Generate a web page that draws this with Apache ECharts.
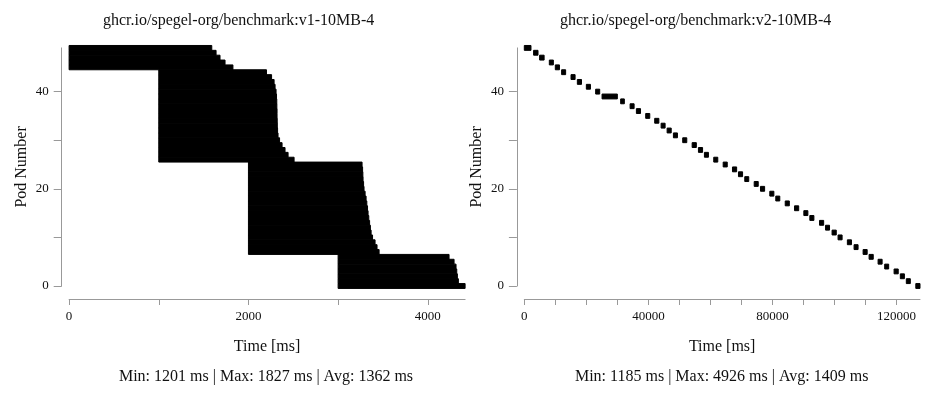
<!DOCTYPE html>
<html>
<head>
<meta charset="utf-8">
<script src="https://cdn.jsdelivr.net/npm/echarts@6/dist/echarts.min.js"></script>
<style>
html,body{margin:0;padding:0;background:#fff;}
#chart{width:933px;height:400px;}
</style>
</head>
<body>
<div id="chart"></div>
<script>
// ---------- Data ----------
const leftTitle = 'ghcr.io/spegel-org/benchmark:v1-10MB-4';
const rightTitle = 'ghcr.io/spegel-org/benchmark:v2-10MB-4';
const leftStats = 'Min: 1201 ms | Max: 1827 ms | Avg: 1362 ms';
const rightStats = 'Min: 1185 ms | Max: 4926 ms | Avg: 1409 ms';

// pod index 0..49
const leftStart = [
  3000, 3000, 3000, 3000, 3000, 3000, 3000,
  2000, 2000, 2000, 2000, 2000, 2000, 2000, 2000, 2000, 2000,
  2000, 2000, 2000, 2000, 2000, 2000, 2000, 2000, 2000,
  1000, 1000, 1000, 1000, 1000, 1000, 1000, 1000, 1000, 1000,
  1000, 1000, 1000, 1000, 1000, 1000, 1000, 1000, 1000,
  0, 0, 0, 0, 0
];
const leftEnd = [
  4416, 4341, 4330, 4323, 4315, 4293, 4237,
  3457, 3434, 3412, 3384, 3368, 3360, 3351, 3342, 3334, 3328,
  3320, 3312, 3301, 3289, 3284, 3278, 3276, 3273, 3267,
  2509, 2442, 2408, 2375, 2347, 2330, 2325, 2322, 2321, 2319,
  2319, 2317, 2316, 2313, 2308, 2297, 2286, 2258, 2201,
  1827, 1739, 1683, 1639, 1591
];

const rightStart = [
  126190, 123130, 121200, 119190, 116160, 114030, 111130, 109200, 106290, 104130,
  101130, 99200, 97100, 95160, 92030, 90100, 87100, 84100, 81060, 79130,
  76130, 74100, 71060, 69030, 67100, 64100, 61060, 58060, 56130, 54100,
  51060, 48060, 46030, 44100, 42030, 39130, 36130, 34100, 31060, 25060,
  23000, 20000, 17100, 15060, 12030, 10000, 8065, 4935, 3000, 0
];
const rightDuration = [
  1350, 1290, 1310, 1330, 1280, 1300, 1340, 1310, 1290, 1320,
  1300, 1350, 1280, 1330, 1310, 1300, 1340, 1320, 1290, 1310,
  1330, 1300, 1280, 1320, 1340, 1310, 1300, 1290, 1330, 1350,
  1310, 1300, 1320, 1280, 1340, 1310, 1330, 1290, 1185, 4926,
  1300, 1320, 1340, 1310, 1290, 1330, 1300, 1450, 1420, 2150
];

const yTicks = [0, 10, 20, 30, 40];
const yLabels = [0, 20, 40];
const leftXTicks = [0, 1000, 2000, 3000, 4000];
const leftXLabels = [0, 2000, 4000];
const rightXTicks = [0, 10000, 20000, 30000, 40000, 50000, 60000, 70000, 80000, 90000, 100000, 110000, 120000];
const rightXLabels = [0, 40000, 80000, 120000];

// ---------- Build ----------
const leftData = leftStart.map((s, i) => [i, s, leftEnd[i]]);
const rightData = rightStart.map((s, i) => [i, s, s + rightDuration[i]]);
const leftMax = Math.max(...leftEnd);
const rightMax = Math.max(...rightData.map(d => d[2]));

const FONT = '"Liberation Serif", "Times New Roman", serif';
const AX = '#999';

function renderBar(params, api) {
  const pod = api.value(0), s = api.value(1), e = api.value(2);
  const p0 = api.coord([s, pod]);
  const p1 = api.coord([e, pod]);
  const h = api.size([0, 1])[1];
  return {
    type: 'rect',
    shape: { x: p0[0], y: p0[1] - h / 2, width: p1[0] - p0[0], height: h },
    style: { fill: '#000', stroke: '#000', lineWidth: 1 }
  };
}

function xAxis(idx, max, ticks, labels) {
  return {
    type: 'value', gridIndex: idx, min: 0, max: max,
    position: 'bottom', offset: 13,
    name: 'Time [ms]', nameLocation: 'middle', nameGap: 40,
    nameTextStyle: { fontFamily: FONT, fontSize: 16, color: '#111' },
    axisLine: { show: true, onZero: false, lineStyle: { color: AX, width: 1 } },
    axisTick: { show: true, inside: false, length: 6, customValues: ticks, lineStyle: { color: AX } },
    axisLabel: { show: true, customValues: labels, margin: 11, fontFamily: FONT, fontSize: 13, color: '#111',
      formatter: v => String(v) },
    splitLine: { show: false }
  };
}
function yAxis(idx) {
  return {
    type: 'value', gridIndex: idx, min: 0, max: 49,
    position: 'left', offset: 7.4,
    name: 'Pod Number', nameLocation: 'middle', nameGap: 32, nameRotate: 90,
    nameTextStyle: { fontFamily: FONT, fontSize: 16, color: '#111' },
    axisLine: { show: true, onZero: false, lineStyle: { color: AX, width: 1 } },
    axisTick: { show: true, inside: false, length: 8, customValues: yTicks, lineStyle: { color: AX } },
    axisLabel: { show: true, customValues: yLabels, margin: 13, fontFamily: FONT, fontSize: 13, color: '#111',
      formatter: v => String(v) },
    splitLine: { show: false }
  };
}

const chart = echarts.init(document.getElementById('chart'), null, { renderer: 'canvas' });
chart.setOption({
  animation: false,
  backgroundColor: '#fff',
  grid: [
    { left: 69.1, top: 47.9, width: 396, height: 238.1 },
    { left: 524.3, top: 47.9, width: 395.7, height: 238.1 }
  ],
  xAxis: [xAxis(0, leftMax, leftXTicks, leftXLabels), xAxis(1, rightMax, rightXTicks, rightXLabels)],
  yAxis: [yAxis(0), yAxis(1)],
  graphic: [
    { type: 'text', left: 103, top: 13, style: { text: leftTitle, font: '16px ' + FONT, fill: '#111' } },
    { type: 'text', left: 560, top: 13, style: { text: rightTitle, font: '16px ' + FONT, fill: '#111' } },
    { type: 'text', x: 266, y: 377, style: { text: leftStats, font: '16px ' + FONT, fill: '#111', align: 'center', verticalAlign: 'middle' } },
    { type: 'text', x: 721.7, y: 377, style: { text: rightStats, font: '16px ' + FONT, fill: '#111', align: 'center', verticalAlign: 'middle' } }
  ],
  series: [
    { type: 'custom', xAxisIndex: 0, yAxisIndex: 0, renderItem: renderBar, clip: false,
      encode: { x: [1, 2], y: 0 }, data: leftData },
    { type: 'custom', xAxisIndex: 1, yAxisIndex: 1, renderItem: renderBar, clip: false,
      encode: { x: [1, 2], y: 0 }, data: rightData }
  ]
});
</script>
</body>
</html>
